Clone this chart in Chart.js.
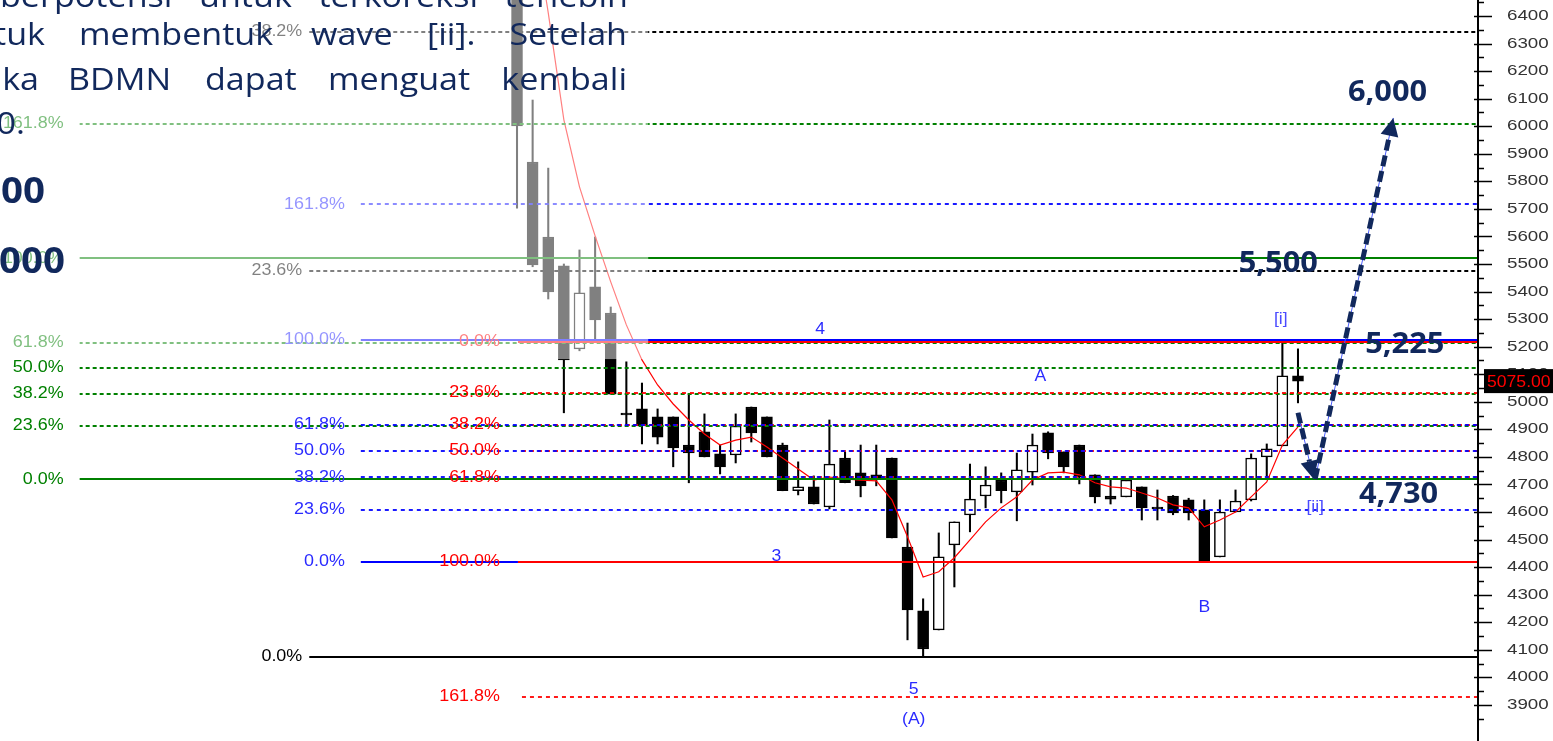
<!DOCTYPE html>
<html><head><meta charset="utf-8">
<script src="https://cdn.jsdelivr.net/npm/chart.js@4.4.1/dist/chart.umd.min.js"></script>
<style>html,body{margin:0;padding:0;background:#fff;overflow:hidden}#wrap{width:1553px;height:741px;position:relative}</style>
</head><body><div id="wrap"><canvas id="c"></canvas></div>
<script>
// ---- DATA ----
const candleIndex = [0,1,2,3,4,5,6,7,8,9,10,11,12,13,14,15,16,17,18,19,20,21,22,23,24,25,26,27,28,29,30,31,32,33,34,35,36,37,38,39,40,41,42,43,44,45,46,47,48,49,50];
const opens  = [6650,5870,5598,5493,5192,5417,5322,4952,4974,4945,4945,4843,4891,4811,4807,4981,4945,4843,4677,4691,4618,4796,4742,4735,4796,4473,4241,4172,4481,4589,4658,4716,4673,4745,4887,4818,4843,4735,4658,4655,4691,4611,4658,4644,4608,4437,4600,4644,4800,4840,5094];
const highs  = [6700,6095,5848,5500,5551,5598,5344,5145,5068,4974,4945,5028,4956,4843,4956,4981,4945,4850,4782,4731,4934,4818,4843,4843,4796,4560,4285,4524,4564,4774,4764,4742,4814,4883,4891,4818,4843,4735,4716,4720,4691,4680,4660,4650,4644,4644,4680,4811,4847,5214,5192];
const lows   = [5703,5490,5373,4960,5185,5224,5028,4912,4847,4847,4764,4706,4800,4738,4778,4854,4800,4677,4662,4629,4611,4706,4655,4695,4506,4136,4074,4172,4328,4528,4615,4633,4568,4698,4793,4742,4702,4633,4629,4655,4571,4571,4590,4571,4419,4437,4600,4640,4724,4840,4996];
const closes = [6001,5497,5399,5152,5395,5297,5028,4952,4912,4872,4833,4814,4800,4764,4912,4887,4800,4677,4691,4629,4774,4706,4695,4720,4506,4245,4103,4437,4564,4647,4698,4677,4753,4843,4814,4764,4727,4655,4647,4716,4615,4611,4597,4597,4419,4600,4640,4796,4829,5094,5075];
const ema    = [7150,6774,6411,6023,5780,5602,5435,5279,5152,5061,4992,4934,4883,4843,4861,4872,4836,4796,4756,4716,4727,4720,4716,4713,4644,4510,4364,4383,4434,4499,4564,4615,4655,4716,4742,4745,4735,4706,4691,4687,4669,4651,4626,4615,4546,4571,4600,4655,4709,4843,4909];
const yTickValues = [3900,4000,4100,4200,4300,4400,4500,4600,4700,4800,4900,5000,5100,5200,5300,5400,5500,5600,5700,5800,5900,6000,6100,6200,6300,6400];
const yTickLabels = ["3900","4000","4100","4200","4300","4400","4500","4600","4700","4800","4900","5000","5100","5200","5300","5400","5500","5600","5700","5800","5900","6000","6100","6200","6300","6400"];
const lastPriceLabel = "5075.00";

const greenFibPct = ["0.0%","23.6%","38.2%","50.0%","61.8%","100.0%","161.8%"];
const greenFibVal = [4718,4912,5028,5123,5214,5520,6008];
const blueFibPct  = ["0.0%","23.6%","38.2%","50.0%","61.8%","100.0%","161.8%"];
const blueFibVal  = [4419,4608,4726,4822,4917,5224,5716];
const redFibPct   = ["0.0%","23.6%","38.2%","50.0%","61.8%","100.0%","161.8%"];
const redFibVal   = [5218,5032,4917,4822,4726,4419,3929];
const grayFibPct  = ["0.0%","23.6%","38.2%"];
const grayFibVal  = [4074,5475,6342];

const waveLabels = ["4","3","A","B","5","(A)","[i]","[ii]"];
const waveLabelX = [19.4,16.6,33.5,44.0,25.4,25.4,48.9,51.1];
const waveLabelY = [5261,4437,5090,4252,3954,3846,5297,4615];

const targetLabels = ["6,000","5,500","5,225","4,730"];
const targetX = [53.2,46.2,54.3,53.9];
const targetY = [6092,5471,5177,4633];

const arrowDownFrom = [50.0,4960], arrowDownTo = [51.0,4720];
const arrowUpFrom = [51.1,4720], arrowUpTo = [56.1,6030];

const paragraph = [
  {y:7,  justify:[0,628], words:["berpotensi","untuk","terkoreksi","terlebih"]},
  {y:45, place:[["untuk",-45],["membentuk",79],["wave",311],["[ii].",427],["Setelah",-627]]},
  {y:90, place:[["maka",-39],["BDMN",68],["dapat",205],["menguat",328],["kembali",-627]]},
  {y:134,place:[["6,000.",-25]]}
];

// ---- STYLE ----
const X_MIN=-33.1, X_MAX=61.46, Y_MIN=3769, Y_MAX=6458;
const fibStyles = [
  {pct:grayFibPct, val:grayFibVal, color:'#000000', label:'#000000', start:-13.3, gap:7,  dash:[4,3], off:0},
  {pct:greenFibPct,val:greenFibVal,color:'#008000', label:'#008000', start:-28.0, gap:16, dash:[4,3], off:1},
  {pct:redFibPct,  val:redFibVal,  color:'#ff0000', label:'#ff0000', start:0.06,  gap:18, dash:[4,4], off:4},
  {pct:blueFibPct, val:blueFibVal, color:'#0000ff', label:'#2b2bff', start:-10.0, gap:16, dash:[4,4], off:0}
];
const NAVY='#11285c';
const TEXT_FONT='31px "Open Sans"';

function sText(ctx, t, x, y, font, color, align, sx, base){
  ctx.save(); ctx.translate(x,y); ctx.scale(sx,1);
  ctx.font=font; ctx.fillStyle=color; ctx.textAlign=align; ctx.textBaseline=base||'alphabetic';
  ctx.fillText(t,0,0); ctx.restore();
}
function arrow(ctx, x1,y1,x2,y2){
  const ang=Math.atan2(y2-y1,x2-x1), L=18, W=9;
  const bx=x2-L*Math.cos(ang), by=y2-L*Math.sin(ang);
  ctx.save();
  ctx.strokeStyle='#4a5cff'; ctx.lineWidth=1; ctx.beginPath(); ctx.moveTo(x1,y1); ctx.lineTo(x2,y2); ctx.stroke();
  ctx.strokeStyle=NAVY; ctx.lineWidth=5; ctx.setLineDash([11,5]); ctx.beginPath(); ctx.moveTo(x1,y1); ctx.lineTo(bx,by); ctx.stroke();
  ctx.setLineDash([]); ctx.fillStyle=NAVY; ctx.beginPath();
  ctx.moveTo(x2,y2);
  ctx.lineTo(bx+W*Math.sin(ang), by-W*Math.cos(ang));
  ctx.lineTo(bx-W*Math.sin(ang), by+W*Math.cos(ang));
  ctx.closePath(); ctx.fill(); ctx.restore();
}

const overlayPlugin = {
  id:'overlay',
  afterDatasetsDraw(chart){
    const ctx=chart.ctx, xs=chart.scales.x, ys=chart.scales.y, a=chart.chartArea;
    const redEnd = xs.getPixelForValue(0.06);
    ctx.save();
    ctx.beginPath(); ctx.rect(a.left,a.top,a.right-a.left,a.bottom-a.top); ctx.clip();
    fibStyles.forEach(f=>{
      const x0=xs.getPixelForValue(f.start);
      f.val.forEach((v,k)=>{
        const solid = f.pct[k]==='0.0%'||f.pct[k]==='100.0%';
        const y=Math.round(ys.getPixelForValue(v));
        ctx.strokeStyle=f.color; ctx.lineWidth=solid?2:1.8;
        if(solid) ctx.setLineDash([]); else {ctx.setLineDash(f.dash); ctx.lineDashOffset=f.off;}
        const x1 = (f.color==='#0000ff' && f.pct[k]==='0.0%') ? redEnd : a.right;
        ctx.beginPath(); ctx.moveTo(x0,y); ctx.lineTo(x1,y); ctx.stroke();
      });
    });
    ctx.restore();
    fibStyles.forEach(f=>{
      const x0=xs.getPixelForValue(f.start);
      f.val.forEach((v,k)=>{
        sText(ctx,f.pct[k],x0-f.gap,ys.getPixelForValue(v),'16px "Liberation Sans"',f.label,'right',1.12,'middle');
      });
    });
    ctx.fillStyle='rgba(255,255,255,0.5)';
    ctx.fillRect(0,0,xs.getPixelForValue(8.4),ys.getPixelForValue(5155));
    waveLabels.forEach((t,k)=>{
      sText(ctx,t,xs.getPixelForValue(waveLabelX[k]),ys.getPixelForValue(waveLabelY[k]),'16px "Liberation Sans"',k>=6?'#4a4aff':'#2b2bff','center',1.1,'middle');
    });
    arrow(ctx,xs.getPixelForValue(arrowDownFrom[0]),ys.getPixelForValue(arrowDownFrom[1]),xs.getPixelForValue(arrowDownTo[0]),ys.getPixelForValue(arrowDownTo[1]));
    arrow(ctx,xs.getPixelForValue(arrowUpFrom[0]),ys.getPixelForValue(arrowUpFrom[1]),xs.getPixelForValue(arrowUpTo[0]),ys.getPixelForValue(arrowUpTo[1]));
    targetLabels.forEach((t,k)=>{
      sText(ctx,t,xs.getPixelForValue(targetX[k]),ys.getPixelForValue(targetY[k]),'bold 28px "Open Sans"',NAVY,'left',1.1);
    });
  },
  afterDraw(chart){
    const ctx=chart.ctx, ys=chart.scales.y, a=chart.chartArea;
    ctx.save();
    ctx.strokeStyle='#000'; ctx.lineWidth=2;
    ctx.beginPath(); ctx.moveTo(a.right+1,0); ctx.lineTo(a.right+1,741); ctx.stroke();
    ctx.lineWidth=1.5;
    yTickValues.forEach((v,k)=>{
      const y=Math.round(ys.getPixelForValue(v))+0.5;
      ctx.beginPath(); ctx.moveTo(a.right-3,y); ctx.lineTo(a.right+15,y); ctx.stroke();
      const ym=Math.round(ys.getPixelForValue(v-50))+0.5;
      ctx.beginPath(); ctx.moveTo(a.right,ym); ctx.lineTo(a.right+7,ym); ctx.stroke();
      sText(ctx,yTickLabels[k],a.right+30,ys.getPixelForValue(v),'15px "Liberation Sans"','#333333','left',1.25,'middle');
    });
    const ym2=Math.round(ys.getPixelForValue(6450))+0.5;
    ctx.beginPath(); ctx.moveTo(a.right,ym2); ctx.lineTo(a.right+7,ym2); ctx.stroke();
    const yp=ys.getPixelForValue(closes[closes.length-1]);
    ctx.fillStyle='#000'; ctx.fillRect(a.right+7,yp-12,76,24);
    sText(ctx,lastPriceLabel,a.right+10,yp+1,'16px "Liberation Sans"','#ff0000','left',1.1,'middle');
    ctx.restore();
    const SX=1.1;
    paragraph.forEach(line=>{
      if(line.justify){
        ctx.save(); ctx.font=TEXT_FONT;
        const ws=line.words.map(w=>ctx.measureText(w).width*SX); ctx.restore();
        const tot=ws.reduce((s,w)=>s+w,0);
        const gap=(line.justify[1]-line.justify[0]-tot)/(line.words.length-1);
        let x=line.justify[0];
        line.words.forEach((w,k)=>{ sText(ctx,w,x,line.y,TEXT_FONT,NAVY,'left',SX); x+=ws[k]+gap; });
      } else {
        line.place.forEach(([w,x])=>{
          if(x<0) sText(ctx,w,-x,line.y,TEXT_FONT,NAVY,'right',SX);
          else sText(ctx,w,x,line.y,TEXT_FONT,NAVY,'left',SX);
        });
      }
    });
    sText(ctx,'5,500',45,203,'bold 35px "Open Sans"',NAVY,'right',1.1);
    sText(ctx,'6,000',65,273,'bold 35px "Open Sans"',NAVY,'right',1.1);
  }
};

const ctx=document.getElementById('c').getContext('2d');
new Chart(ctx,{
  data:{datasets:[
    {type:'line',label:'EMA',data:candleIndex.map(i=>({x:i,y:ema[i]})),borderColor:'#ff0000',borderWidth:1.2,pointRadius:0,tension:0,order:0},
    {type:'bar',label:'Body',data:candleIndex.map(i=>({x:i,y:[opens[i],closes[i]]})),
      backgroundColor:candleIndex.map(i=>closes[i]>opens[i]?'#ffffff':'#000000'),borderColor:'#000000',borderWidth:1.5,borderSkipped:false,
      barThickness:11,minBarLength:2,grouped:false,order:1},
    {type:'bar',label:'Wick',data:candleIndex.map(i=>({x:i,y:[lows[i],highs[i]]})),backgroundColor:'#000000',barThickness:1.4,grouped:false,order:2}
  ]},
  options:{responsive:true,maintainAspectRatio:false,animation:false,layout:{padding:0},
    plugins:{legend:{display:false},tooltip:{enabled:false}},
    scales:{
      x:{type:'linear',min:X_MIN,max:X_MAX,display:false,offset:false},
      y:{type:'linear',position:'right',min:Y_MIN,max:Y_MAX,ticks:{display:false,stepSize:100},grid:{display:false,drawTicks:false},border:{display:false},afterFit(s){s.width=76;}}
    }},
  plugins:[overlayPlugin]
});
</script></body></html>
